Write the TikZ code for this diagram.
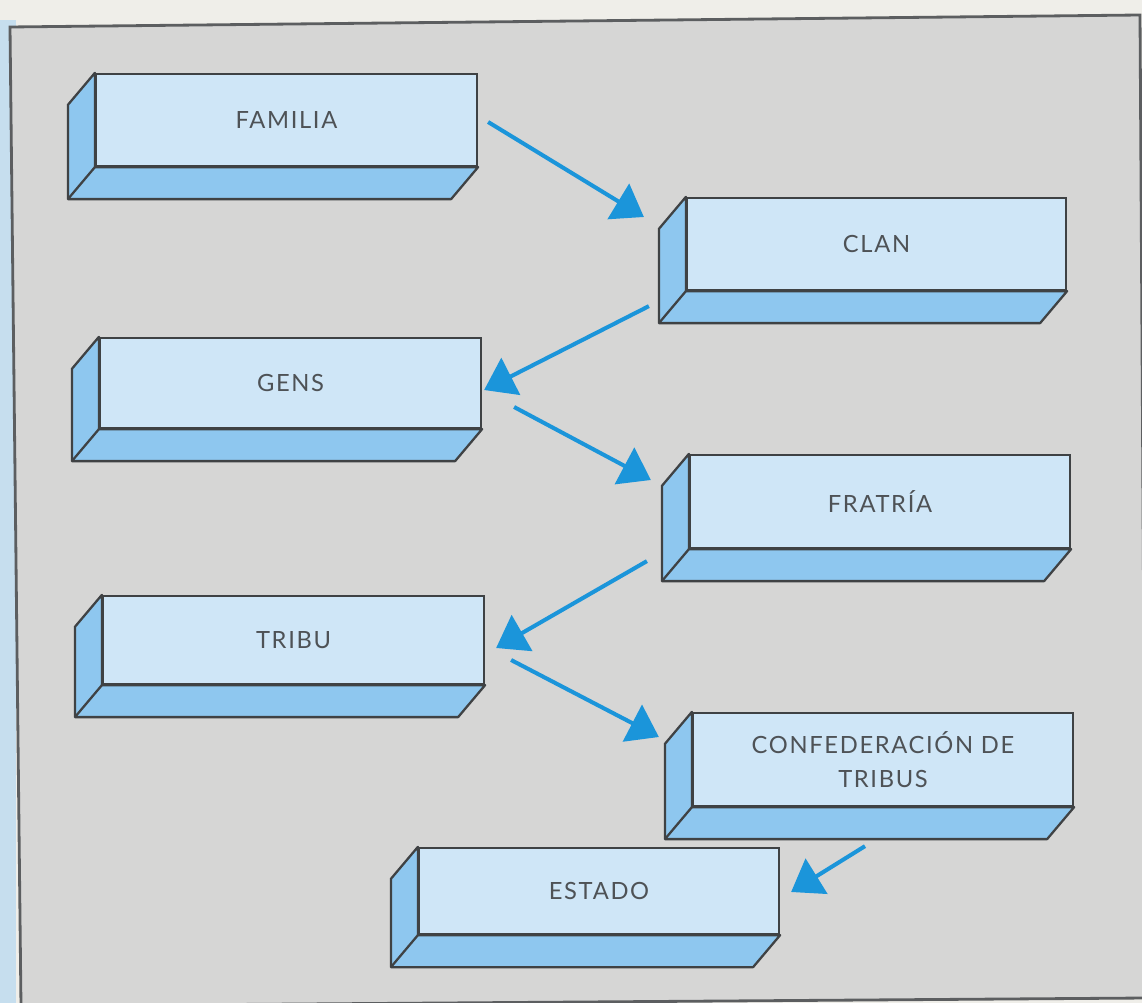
\documentclass[tikz,border=0pt]{standalone}
\usepackage{fontspec}
\setmainfont{Lato}[LetterSpace=7]
\usetikzlibrary{arrows.meta,calc}
\definecolor{bgout}{HTML}{EFEEE9}
\definecolor{bgleft}{HTML}{C6DEEE}
\definecolor{panel}{HTML}{D6D6D5}
\definecolor{frontc}{HTML}{CFE6F7}
\definecolor{sidec}{HTML}{8EC7EF}
\definecolor{edgec}{HTML}{3F4244}
\definecolor{arrc}{HTML}{1B95DA}
\definecolor{txtc}{HTML}{4E5256}
\tikzset{
  brick/.style={draw=edgec, line width=1.3pt, fill=frontc, rectangle, inner sep=0pt,
    align=center, text=txtc, font=\fontsize{13.5}{19}\selectfont},
  sideface/.style={draw=edgec, line width=1.3pt, fill=sidec, line join=round},
  arr/.style={draw=arrc, line width=2.3pt, -{Triangle[length=0.6cm, width=0.82cm]}, arrc}
}
\newcommand{\brickfaces}[1]{%
  \filldraw[sideface] (#1.north west) -- ($(#1.north west)+(-27,32)$) -- ($(#1.south west)+(-27,32)$)
     -- ($(#1.south east)+(-27,32)$) -- (#1.south east) -- (#1.south west) -- cycle;
  \draw[edgec, line width=1.3pt] (#1.south west) -- ($(#1.south west)+(-27,32)$);
}
\begin{document}
\begin{tikzpicture}[x=0.02cm, y=-0.02cm]
\useasboundingbox (0,0) rectangle (1142,1003);
\fill[bgout] (0,0) rectangle (1142,1003);
\fill[bgleft] (0,20) rectangle (16,1003);
\filldraw[fill=panel, draw=edgec!85, line width=1.6pt] (10,27) -- (1140,15) -- (1146,998) -- (21,1006) -- cycle;

\node[brick, minimum width=7.62cm, minimum height=1.84cm] (familia) at (286.5,120) {FAMILIA};
\node[brick, minimum width=7.58cm, minimum height=1.84cm] (clan) at (876.5,244) {CLAN};
\node[brick, minimum width=7.62cm, minimum height=1.80cm] (gens) at (290.5,383) {GENS};
\node[brick, minimum width=7.60cm, minimum height=1.86cm] (fratria) at (880,501.5) {FRATRÍA};
\node[brick, minimum width=7.62cm, minimum height=1.76cm] (tribu) at (293.5,640) {TRIBU};
\node[brick, minimum width=7.60cm, minimum height=1.86cm] (confed) at (883,759.5) {CONFEDERACIÓN DE\\TRIBUS};
\node[brick, minimum width=7.20cm, minimum height=1.72cm] (estado) at (599,891) {ESTADO};

\brickfaces{familia}
\brickfaces{clan}
\brickfaces{gens}
\brickfaces{fratria}
\brickfaces{tribu}
\brickfaces{confed}
\brickfaces{estado}

\draw[arr] ($(familia.east)+(10,2)$) -- ($(clan.west)+(-42,-27)$);
\draw[arr] ($(clan.south west)+(-37,15)$) -- ($(gens.east)+(2,7)$);
\draw[arr] ($(gens.east)+(32,24)$) -- ($(fratria.west)+(-38,-21.5)$);
\draw[arr] ($(fratria.south west)+(-42,12)$) -- ($(tribu.east)+(11,8)$);
\draw[arr] ($(tribu.east)+(26,20)$) -- ($(confed.west)+(-33,-22.5)$);
\draw[arr] ($(confed.south)+(-18,39)$) -- ($(estado.east)+(11,1)$);
\end{tikzpicture}
\end{document}
